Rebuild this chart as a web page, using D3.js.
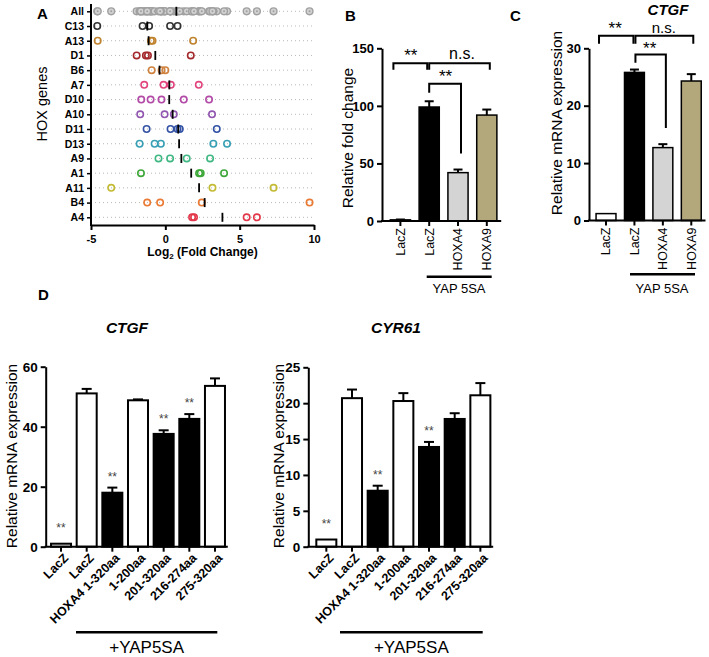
<!DOCTYPE html>
<html><head><meta charset="utf-8">
<script src="https://cdn.jsdelivr.net/npm/d3@7"></script>
<style>
body{margin:0;background:#fff}
svg{display:block}
text{font-family:"Liberation Sans",Arial,Helvetica,sans-serif;fill:#000}
</style>
</head><body>
<svg id="c" width="709" height="657"></svg>
<script>
// ---------- Panel A data ----------
const hoxRows = ["All","C13","A13","D1","B6","A7","D10","A10","D11","D13","A9","A1","A11","B4","A4"];
const valsC13 = [-4.58,-1.53,-1.09,0.32,0.82];
const valsA13 = [-4.55,-0.97,-0.86,1.87];
const valsD1  = [-1.93,-1.31,-1.17,1.71];
const valsB6  = [-0.92,-0.25,0.0];
const valsA7  = [-1.42,-0.12,0.37,2.25];
const valsD10 = [-1.62,-0.99,-0.26,1.24,2.94];
const valsA10 = [-1.69,-0.05,0.57,3.14];
const valsD11 = [-1.26,0.35,0.82,0.97,3.46];
const valsD13 = [-1.73,-0.72,-0.30,3.23,4.15];
const valsA9  = [-0.46,0.32,1.44,3.01];
const valsA1  = [-1.64,2.27,2.38,3.95];
const valsA11 = [-3.64,3.17,7.28];
const valsB4  = [-1.22,-0.35,2.45,9.70];
const valsA4  = [1.80,1.93,5.47,6.16];
const xTicksA = [-5,0,5,10];
const rowColors = ["#a0a0a0","#333333","#c0832e","#a3282c","#d0823e","#e2457e","#b34aa8","#9156b0","#3453a6","#38a0b4","#3fb883","#3fa83a","#c4bb34","#ea7a34","#e3384a"];

// ---------- Panel B / C data ----------
const bcCats = ["LacZ","LacZ","HOXA4","HOXA9"];
const bValues = [1, 99, 42, 92];
const bErrors = [0.3, 5, 2.7, 4.8];
const bTicks = [0,50,100,150];
const cValues = [1.2, 25.8, 12.7, 24.3];
const cErrors = [0.1, 0.5, 0.6, 1.2];
const cTicks = [0,10,20,30];
const bcFills = ["#ffffff","#000000","#d4d4d4","#b3a77c"];

// ---------- Panel D data ----------
const dCats = ["LacZ","LacZ","HOXA4 1-320aa","1-200aa","201-320aa","216-274aa","275-320aa"];
const ctgfValues = [1, 51.1, 18.0, 48.8, 37.6, 42.6, 53.6];
const ctgfErrors = [0.1, 1.5, 1.7, 0.3, 1.2, 1.6, 2.5];
const ctgfStars  = [true,false,true,false,true,true,false];
const ctgfTicks = [0,20,40,60];
const cyr61Values = [1, 20.7, 7.8, 20.3, 13.9, 17.8, 21.1];
const cyr61Errors = [0.1, 1.2, 0.7, 1.1, 0.7, 0.8, 1.7];
const cyr61Stars  = [true,false,true,false,true,false,false];
const cyr61Ticks = [0,5,10,15,20,25];
const dFills = ["#ffffff","#ffffff","#000000","#ffffff","#000000","#000000","#ffffff"];

const svg = d3.select("#c");

function styleAxis(g, fs){
  g.selectAll("path,line").attr("stroke","#000").attr("stroke-width",2);
  g.selectAll("text").attr("font-size",fs).attr("font-weight","bold").attr("fill","#000");
}

// ================= Panel A =================
(function(){
  const seriesByRow = [null,valsC13,valsA13,valsD1,valsB6,valsA7,valsD10,valsA10,valsD11,valsD13,valsA9,valsA1,valsA11,valsB4,valsA4];
  seriesByRow[0] = [].concat(...seriesByRow.slice(1));
  const x = d3.scaleLinear().domain([-5,10]).range([91,314]);
  const y = d3.scalePoint().domain(hoxRows).range([11.3,217.3]);
  const g = svg.append("g");
  hoxRows.forEach(r=>{
    g.append("line").attr("x1",x(-5)).attr("x2",x(10)).attr("y1",y(r)).attr("y2",y(r))
      .attr("stroke","#b8b8b8").attr("stroke-width",1).attr("stroke-dasharray","1,3");
  });
  const ax = g.append("g").attr("transform","translate(0,225)")
    .call(d3.axisBottom(x).tickValues(xTicksA).tickSize(5).tickSizeOuter(0).tickFormat(d=>String(d)));
  styleAxis(ax, 11);
  ax.selectAll("text").attr("dy","0.9em");
  const ay = g.append("g").attr("transform","translate(91,0)")
    .call(d3.axisLeft(y).tickSize(4).tickSizeOuter(0));
  ay.select(".domain").remove();
  styleAxis(ay, 10.5);
  ay.selectAll("line").attr("stroke-width",1.5);
  g.append("line").attr("x1",91).attr("x2",91).attr("y1",4).attr("y2",226).attr("stroke","#000").attr("stroke-width",2);

  hoxRows.forEach((r,i)=>{
    const vals = seriesByRow[i];
    const col = rowColors[i];
    vals.forEach(v=>{
      if(i===0){
        g.append("circle").attr("cx",x(v)).attr("cy",y(r)).attr("r",3.4)
          .attr("fill","#d2d2d2").attr("stroke","#a0a0a0").attr("stroke-width",1.4);
        g.append("circle").attr("cx",x(v)).attr("cy",y(r)).attr("r",1)
          .attr("fill","#a0a0a0");
      } else {
        g.append("circle").attr("cx",x(v)).attr("cy",y(r)).attr("r",3.2)
          .attr("fill","none").attr("stroke",col).attr("stroke-width",1.6);
      }
    });
    const m = d3.mean(vals);
    g.append("line").attr("x1",x(m)).attr("x2",x(m)).attr("y1",y(r)-4.5).attr("y2",y(r)+4.5)
      .attr("stroke","#000").attr("stroke-width",1.8);
  });
  const t = g.append("text").attr("x",(x(-5)+x(10))/2).attr("y",256).attr("text-anchor","middle")
    .attr("font-size",12).attr("font-weight","bold");
  t.append("tspan").text("Log");
  t.append("tspan").text("2").attr("font-size",8).attr("dy",3);
  t.append("tspan").text(" (Fold Change)").attr("dy",-3);
  g.append("text").attr("transform","translate(42,104) rotate(-90)").attr("text-anchor","middle")
    .attr("dy","0.35em").attr("font-size",14.5).text("HOX genes");
  g.append("text").attr("x",37).attr("y",19).attr("font-size",15).attr("font-weight","bold").text("A");
})();

// ================= Bar panel helper =================
function barPanel(o){
  const g = svg.append("g");
  const y = d3.scaleLinear().domain([0,o.ymax]).range([o.y0,o.ytop]);
  const x = d3.scaleBand().domain(d3.range(o.cats.length)).range(o.xr)
    .paddingInner(o.pin).paddingOuter(o.pin/2);
  o.values.forEach((v,i)=>{
    g.append("rect").attr("x",x(i)).attr("width",x.bandwidth())
      .attr("y",y(v)).attr("height",y(0)-y(v))
      .attr("fill",o.fills[i]).attr("stroke","#000").attr("stroke-width",o.bsw);
    const cx = x(i)+x.bandwidth()/2;
    const e = v+o.errors[i];
    if(o.errors[i]>0.2){
      g.append("line").attr("x1",cx).attr("x2",cx).attr("y1",y(v)).attr("y2",y(e))
        .attr("stroke","#000").attr("stroke-width",2);
      g.append("line").attr("x1",cx-o.cap/2).attr("x2",cx+o.cap/2).attr("y1",y(e)).attr("y2",y(e))
        .attr("stroke","#000").attr("stroke-width",2);
    }
  });
  const ay = g.append("g").attr("transform",`translate(${o.axisX},0)`)
    .call(d3.axisLeft(y).tickValues(o.ticks).tickSize(5).tickSizeOuter(0));
  styleAxis(ay, o.tfs);
  const ax = g.append("g").attr("transform",`translate(0,${o.y0})`)
    .call(d3.axisBottom(x).tickSize(5).tickSizeOuter(0).tickFormat(i=>o.cats[i]));
  ax.select(".domain").remove();
  styleAxis(ax, o.lfs);
  ax.selectAll("text").attr("font-weight",o.lfw);
  g.append("line").attr("x1",o.axisX-1).attr("x2",o.xr[1]).attr("y1",o.y0).attr("y2",o.y0)
    .attr("stroke","#000").attr("stroke-width",2);
  if(o.rot===-90){
    ax.selectAll("text").attr("transform","rotate(-90)").attr("text-anchor","end")
      .attr("x",-7).attr("y",0).attr("dy","0.35em");
  } else {
    ax.selectAll("text").attr("transform","translate(5,9) rotate(-45)").attr("text-anchor","end")
      .attr("x",0).attr("y",0).attr("dy","0.35em");
  }
  g.append("text").attr("transform",`translate(${o.ylx},${o.yly}) rotate(-90)`)
    .attr("text-anchor","middle").attr("dy","0.35em").attr("font-size",o.ylfs).text(o.ylabel);
  return {g,x,y,cx:i=>x(i)+x.bandwidth()/2};
}

function bracket(g, x1, x2, yTop, yl, yr){
  g.append("path").attr("d",`M${x1},${yl}V${yTop}H${x2}V${yr}`)
    .attr("fill","none").attr("stroke","#000").attr("stroke-width",2);
}

// ================= Panel B =================
(function(){
  const P = barPanel({cats:bcCats,values:bValues,errors:bErrors,fills:bcFills,ymax:150,y0:221,ytop:48.3,
    xr:[386,501.2],pin:0.3,axisX:382,ticks:bTicks,tfs:13,lfs:12.5,lfw:"normal",rot:-90,bsw:1.5,cap:9,
    ylabel:"Relative fold change",ylx:348,yly:138,ylfs:15.5});
  const g=P.g, y=P.y, cx=P.cx;
  bracket(g, cx(0)-7, cx(1)-2, y(137), y(131.3), y(131.3));
  bracket(g, cx(1), cx(3)+3, y(137), y(131.3), y(131.3));
  bracket(g, cx(1), cx(2)+3, y(119.2), y(111.4), y(58.6));
  g.append("text").attr("x",(cx(0)+cx(1))/2-4).attr("y",y(137)-2).attr("text-anchor","middle").attr("font-size",17).text("**");
  g.append("text").attr("x",(cx(1)+cx(3))/2+4).attr("y",y(137)-4).attr("text-anchor","middle").attr("font-size",16).text("n.s.");
  g.append("text").attr("x",(cx(1)+cx(2))/2+2).attr("y",y(119.2)-2).attr("text-anchor","middle").attr("font-size",17).text("**");
  g.append("line").attr("x1",426.7).attr("x2",491.7).attr("y1",276.7).attr("y2",276.7).attr("stroke","#000").attr("stroke-width",2.5);
  g.append("text").attr("x",459).attr("y",293).attr("text-anchor","middle").attr("font-size",13).text("YAP 5SA");
  g.append("text").attr("x",345).attr("y",21).attr("font-size",15).attr("font-weight","bold").text("B");
})();

// ================= Panel C =================
(function(){
  const P = barPanel({cats:bcCats,values:cValues,errors:cErrors,fills:bcFills,ymax:30,y0:220.5,ytop:48.3,
    xr:[591.8,705.5],pin:0.3,axisX:589,ticks:cTicks,tfs:13,lfs:12.5,lfw:"normal",rot:-90,bsw:1.5,cap:9,
    ylabel:"Relative mRNA expression",ylx:557,yly:123,ylfs:15.5});
  const g=P.g, y=P.y, cx=P.cx;
  bracket(g, cx(0)-7, cx(1)-1, y(32.2), y(30.8), y(30.8));
  bracket(g, cx(1)+1, cx(3)+2, y(32.2), y(30.8), y(30.8));
  bracket(g, cx(1)+1, cx(2)+3, y(28.9), y(27.5), y(16.1));
  g.append("text").attr("x",(cx(0)+cx(1))/2-5).attr("y",y(32.2)-2).attr("text-anchor","middle").attr("font-size",17).text("**");
  g.append("text").attr("x",(cx(1)+cx(3))/2+1).attr("y",y(32.2)-3).attr("text-anchor","middle").attr("font-size",15).text("n.s.");
  g.append("text").attr("x",(cx(1)+cx(2))/2+1).attr("y",y(28.9)-1).attr("text-anchor","middle").attr("font-size",17).text("**");
  g.append("line").attr("x1",630).attr("x2",695).attr("y1",274.3).attr("y2",274.3).attr("stroke","#000").attr("stroke-width",2.5);
  g.append("text").attr("x",662).attr("y",293).attr("text-anchor","middle").attr("font-size",13).text("YAP 5SA");
  g.append("text").attr("x",668).attr("y",15).attr("text-anchor","middle").attr("font-size",15)
    .attr("font-weight","bold").attr("font-style","italic").text("CTGF");
  g.append("text").attr("x",510).attr("y",21).attr("font-size",15).attr("font-weight","bold").text("C");
})();

// ================= Panel D =================
function dPanel(vals, errs, stars, ticks, ymax, ytop, xr, axisX, ylx, title, tx, lineX){
  const P = barPanel({cats:dCats,values:vals,errors:errs,fills:dFills,ymax:ymax,y0:546.7,ytop:ytop,
    xr:xr,pin:0.22,axisX:axisX,ticks:ticks,tfs:13.5,lfs:12.5,lfw:"bold",rot:-45,bsw:2,cap:10,
    ylabel:"Relative mRNA expression",ylx:ylx,yly:456,ylfs:15.5});
  const g=P.g, y=P.y, cx=P.cx;
  vals.forEach((v,i)=>{
    if(stars[i]) g.append("text").attr("x",cx(i)).attr("y",y(v+errs[i])-(i===0?11:7))
      .attr("text-anchor","middle").attr("font-size",12).style("fill","#444").text("**");
  });
  g.append("line").attr("x1",lineX[0]).attr("x2",lineX[1]).attr("y1",632.3).attr("y2",632.3).attr("stroke","#000").attr("stroke-width",2.5);
  g.append("text").attr("x",(lineX[0]+lineX[1])/2).attr("y",653).attr("text-anchor","middle").attr("font-size",17).text("+YAP5SA");
  g.append("text").attr("x",tx).attr("y",333).attr("text-anchor","middle").attr("font-size",15.5)
    .attr("font-weight","bold").attr("font-style","italic").text(title);
}
dPanel(ctgfValues, ctgfErrors, ctgfStars, ctgfTicks, 60, 366.7, [48.2,227.8], 45.7, 12, "CTGF", 127, [76,217.3]);
dPanel(cyr61Values, cyr61Errors, cyr61Stars, cyr61Ticks, 25, 367.3, [313.5,493.2], 308.3, 279, "CYR61", 396, [340,482.7]);
svg.append("text").attr("x",38).attr("y",300).attr("font-size",15).attr("font-weight","bold").text("D");
</script>
</body></html>
